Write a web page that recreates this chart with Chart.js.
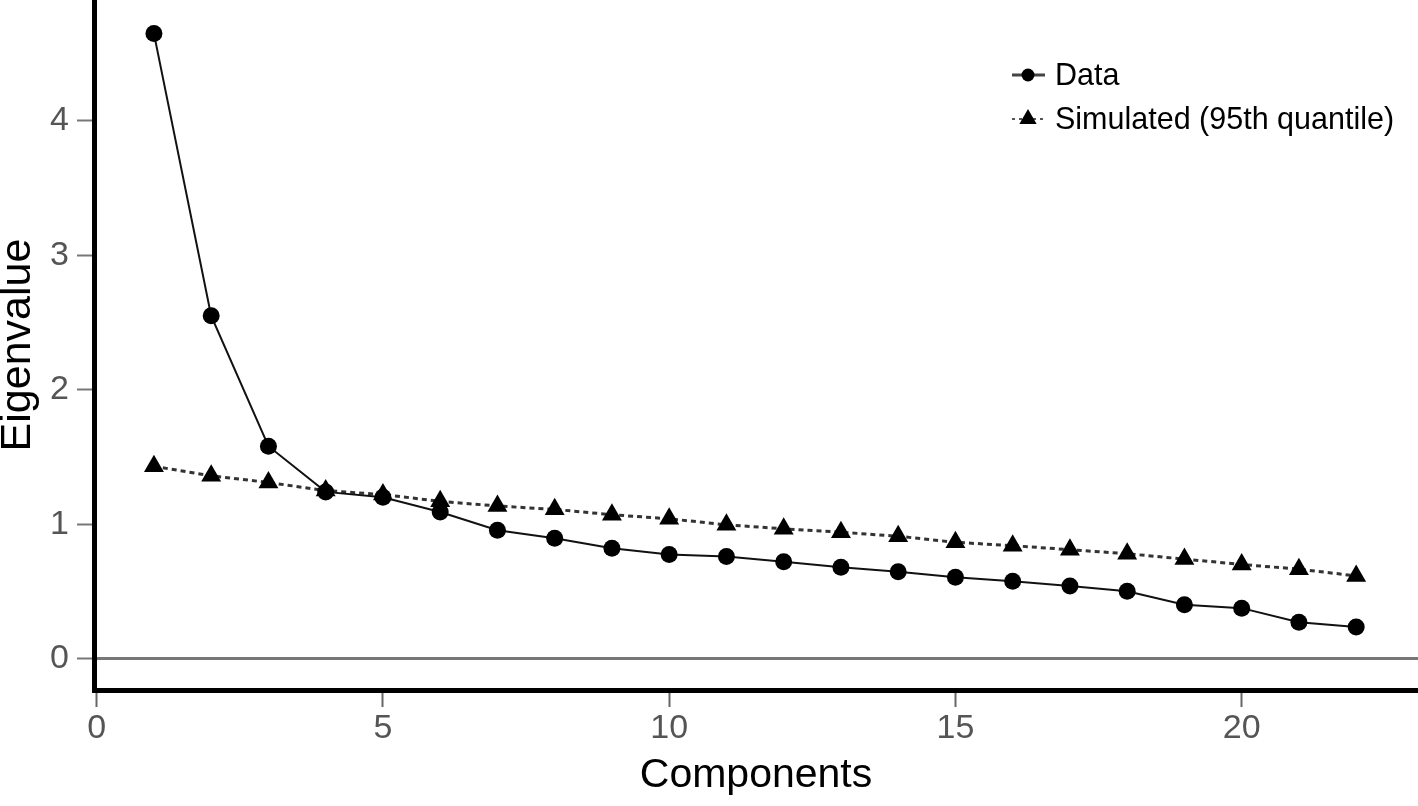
<!DOCTYPE html>
<html>
<head>
<meta charset="utf-8">
<script src="https://cdn.jsdelivr.net/npm/chart.js@4.4.1/dist/chart.umd.min.js"></script>
<style>
html,body{margin:0;padding:0;background:#fff;}
#wrap{width:1418px;height:806px;position:relative;}
</style>
</head>
<body>
<div id="wrap"><canvas id="c" width="1418" height="806"></canvas></div>
<script>
// ---- data ----
const components = [1,2,3,4,5,6,7,8,9,10,11,12,13,14,15,16,17,18,19,20,21,22];
const dataEigen = [4.65,2.55,1.58,1.24,1.20,1.09,0.955,0.895,0.82,0.775,0.76,0.72,0.68,0.645,0.605,0.575,0.54,0.50,0.40,0.375,0.27,0.235];
const simulated95 = [1.43,1.36,1.31,1.25,1.22,1.17,1.135,1.11,1.07,1.04,0.995,0.965,0.94,0.91,0.865,0.84,0.81,0.78,0.74,0.70,0.665,0.615];
const xTickValues = [0,5,10,15,20];
const yTickValues = [0,1,2,3,4];
const seriesNames = ['Data','Simulated (95th quantile)'];
const xTitle = 'Components';
const yTitle = 'Eigenvalue';

const tickFont = "'Liberation Sans',Arial,sans-serif";
const textFont = "'Liberation Sans',Arial,sans-serif";

const legendPlugin = {
  id: 'insideLegend',
  afterDraw(chart) {
    const ctx = chart.ctx;
    ctx.save();
    const rows = [
      {y: 75, ds: chart.data.datasets[0]},
      {y: 119, ds: chart.data.datasets[1]}
    ];
    rows.forEach((r, i) => {
      ctx.strokeStyle = i === 0 ? '#444' : '#555';
      ctx.lineWidth = i === 0 ? 3 : 2;
      ctx.setLineDash(i === 0 ? [] : [3, 4]);
      ctx.beginPath();
      ctx.moveTo(1012, r.y);
      ctx.lineTo(1045, r.y);
      ctx.stroke();
      ctx.setLineDash([]);
      ctx.fillStyle = '#000';
      ctx.beginPath();
      if (i === 0) {
        ctx.arc(1028, r.y, 6.5, 0, Math.PI * 2);
      } else {
        const rad = 10;
        ctx.moveTo(1028, r.y - rad);
        ctx.lineTo(1028 + rad * Math.sin(2 * Math.PI / 3), r.y + rad / 2);
        ctx.lineTo(1028 - rad * Math.sin(2 * Math.PI / 3), r.y + rad / 2);
        ctx.closePath();
      }
      ctx.fill();
      ctx.font = "30.5px " + textFont;
      ctx.textBaseline = 'middle';
      ctx.textAlign = 'left';
      ctx.fillStyle = '#000';
      ctx.fillText(r.ds.label, 1055, r.y + 2);
    });
    ctx.restore();
  }
};

function zeroPad(s) {
  s.paddingTop = 0; s.paddingBottom = 0; s.paddingLeft = 0; s.paddingRight = 0;
}

const ctx = document.getElementById('c').getContext('2d');
new Chart(ctx, {
  type: 'line',
  data: {
    datasets: [
      {
        label: seriesNames[0],
        data: components.map((c, i) => ({x: c, y: dataEigen[i]})),
        borderColor: '#111',
        borderWidth: 2,
        tension: 0,
        pointStyle: 'circle',
        pointRadius: 8.5,
        pointBackgroundColor: '#000',
        pointBorderColor: '#000',
        pointBorderWidth: 0,
        order: 1
      },
      {
        label: seriesNames[1],
        data: components.map((c, i) => ({x: c, y: simulated95[i]})),
        borderColor: '#333',
        borderWidth: 3,
        borderDash: [5, 4],
        tension: 0,
        pointStyle: 'triangle',
        pointRadius: 11.5,
        pointBackgroundColor: '#000',
        pointBorderColor: '#000',
        pointBorderWidth: 0,
        order: 2
      }
    ]
  },
  options: {
    responsive: false,
    devicePixelRatio: 1,
    animation: false,
    layout: {padding: 0, autoPadding: false},
    plugins: {legend: {display: false}, tooltip: {enabled: false}},
    scales: {
      x: {
        type: 'linear',
        position: 'bottom',
        min: -0.047,
        max: 23.08,
        afterBuildTicks: s => { s.ticks = xTickValues.map(v => ({value: v})); },
        afterFit: s => { s.height = 116; zeroPad(s); },
        border: {display: true, color: '#000', width: 5},
        grid: {display: true, drawOnChartArea: false, drawTicks: true, tickLength: 17, tickColor: '#666', tickWidth: 2},
        ticks: {color: '#555', font: {family: tickFont, size: 34}, padding: 1, maxRotation: 0, autoSkip: false},
        title: {display: true, text: xTitle, color: '#000', font: {family: textFont, size: 41, lineHeight: 1.2}, padding: {top: 0, bottom: 5.6}}
      },
      y: {
        type: 'linear',
        position: 'left',
        min: -0.234,
        max: 4.90,
        afterBuildTicks: s => { s.ticks = yTickValues.map(v => ({value: v})); },
        afterFit: s => { s.width = 94; zeroPad(s); },
        border: {display: true, color: '#000', width: 5},
        grid: {
          display: true,
          drawOnChartArea: true,
          color: c => (c.tick && c.tick.value === 0) ? '#777' : 'rgba(0,0,0,0)',
          lineWidth: 3,
          drawTicks: true,
          tickLength: 17,
          tickColor: '#777',
          tickWidth: 2
        },
        ticks: {color: '#555', font: {family: tickFont, size: 34}, padding: 8},
        title: {display: true, text: yTitle, color: '#000', font: {family: textFont, size: 43, lineHeight: 0.842}, padding: 0}
      }
    }
  },
  plugins: [legendPlugin]
});
</script>
</body>
</html>
